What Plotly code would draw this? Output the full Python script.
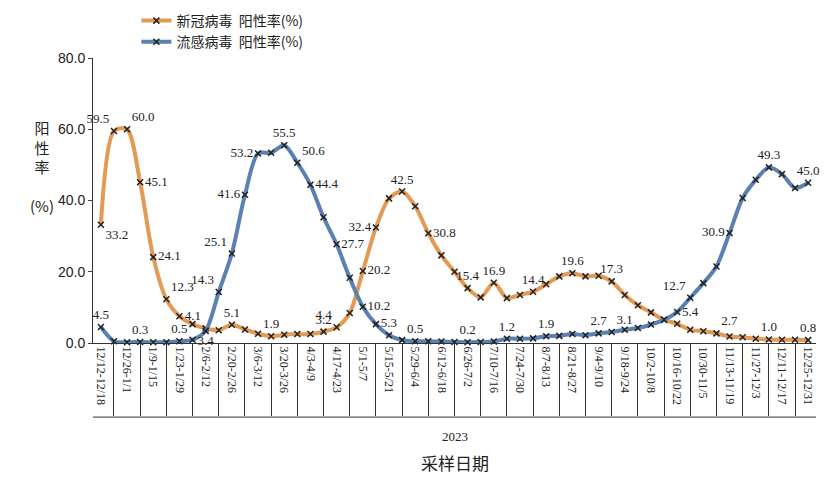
import plotly.graph_objects as go

weeks = list(range(55))
tick_idx = list(range(0, 55, 2))
tick_labels = ["12/12-12/18","12/26-1/1","1/9-1/15","1/23-1/29","2/6-2/12","2/20-2/26","3/6-3/12",
               "3/20-3/26","4/3-4/9","4/17-4/23","5/1-5/7","5/15-5/21","5/29-6/4","6/12-6/18",
               "6/26-7/2","7/10-7/16","7/24-7/30","8/7-8/13","8/21-8/27","9/4-9/10","9/18-9/24",
               "10/2-10/8","10/16-10/22","10/30-11/5","11/13-11/19","11/27-12/3","12/11-12/17","12/25-12/31"]

covid = [33.2,59.5,60.0,45.1,24.1,12.3,7.5,5.3,4.1,3.6,
         5.1,3.8,2.6,1.9,2.3,2.5,2.5,3.2,4.4,8.4,
         20.2,32.4,40.6,42.5,38.4,30.8,24.6,20.0,15.4,12.8,
         16.9,12.6,13.5,14.4,16.5,18.7,19.6,18.7,18.9,17.3,
         13.5,10.6,8.6,6.5,5.4,3.7,3.3,2.7,1.8,1.6,
         1.2,1.0,0.9,0.9,0.8]
flu = [4.5,0.5,0.2,0.3,0.2,0.2,0.5,0.9,3.4,14.3,
       25.1,41.6,53.2,53.4,55.5,50.6,44.4,35.3,27.7,18.3,
       10.2,5.3,2.2,0.8,0.5,0.5,0.4,0.3,0.2,0.3,
       0.4,1.2,1.2,1.3,1.9,2.0,2.5,2.2,2.7,3.1,
       3.7,4.2,5.2,6.5,8.7,12.7,16.8,21.5,30.9,40.7,
       45.8,49.3,47.4,43.5,45.0]

covid_lbl = {0:"bottom right",1:"top left",2:"top right",3:"middle right",4:"middle right",5:"top right",
             8:"top left",10:"top center",13:"top center",17:"top center",18:"top left",20:"middle right",
             21:"middle left",23:"top center",25:"middle right",28:"top center",30:"top center",
             33:"top center",36:"top center",39:"top center",44:"top right",47:"top right",
             51:"top center",54:"top center"}
flu_lbl = {0:"top center",3:"top center",6:"top center",8:"bottom center",9:"top left",10:"top left",
           11:"middle left",12:"middle left",14:"top center",15:"top right",16:"middle right",
           18:"middle right",20:"middle right",21:"middle right",24:"top center",28:"top center",
           31:"top center",34:"top center",38:"top center",39:"top right",45:"top left",
           48:"middle left",51:"top center",54:"top center"}

def texts(vals, lbl):
    t = [f"{v:.1f}" if i in lbl else "" for i, v in enumerate(vals)]
    p = [lbl.get(i, "top center") for i in range(len(vals))]
    return t, p

fig = go.Figure()
for name, vals, col, lbl in [("新冠病毒  阳性率(%)", covid, "#E39A55", covid_lbl),
                             ("流感病毒  阳性率(%)", flu, "#5B80B2", flu_lbl)]:
    t, p = texts(vals, lbl)
    fig.add_trace(go.Scatter(x=weeks, y=vals, name=name, mode="lines+markers+text",
                             line=dict(color=col, width=4, shape="spline", smoothing=0.8),
                             marker=dict(symbol="x-thin", size=6, color="#222",
                                         line=dict(width=1.5, color="#222")),
                             text=t, textposition=p, cliponaxis=False,
                             textfont=dict(family="Liberation Serif", size=13, color="#222")))

fig.update_layout(
    width=828, height=500, plot_bgcolor="white", paper_bgcolor="white",
    margin=dict(l=85, r=20, t=50, b=165, autoexpand=False),
    font=dict(family="Liberation Serif", size=13, color="#222"),
    legend=dict(x=0.06, y=1.0, xanchor="left", yanchor="bottom", bgcolor="rgba(0,0,0,0)",
                font=dict(family="Noto Sans CJK SC", size=14)),
    xaxis=dict(range=[-0.6, 54.6], tickmode="array", tickvals=tick_idx, ticktext=tick_labels,
               tickangle=90, showgrid=False, showline=True, linecolor="#333", ticks="",
               tickfont=dict(family="Liberation Serif", size=12),
               minor=dict(tick0=1, dtick=2, ticks="outside", ticklen=72, tickcolor="#333")),
    yaxis=dict(range=[0, 80], dtick=20, tickformat=".1f", showgrid=False, showline=True,
               linecolor="#333", ticks="outside", ticklen=4,
               tickfont=dict(family="Liberation Sans", size=14)),
)
fig.add_shape(type="line", xref="paper", yref="paper", x0=0, x1=1, y0=-0.26, y1=-0.26,
              line=dict(color="#333", width=1))
fig.add_annotation(text="阳<br>性<br>率<br><br>(%)", xref="paper", yref="paper", x=-0.09, y=0.62,
                   showarrow=False, font=dict(family="Noto Sans CJK SC", size=15))
fig.add_annotation(text="2023", xref="paper", yref="paper", x=0.5, y=-0.36, showarrow=False,
                   font=dict(family="Liberation Serif", size=13))
fig.add_annotation(text="采样日期", xref="paper", yref="paper", x=0.5, y=-0.47, showarrow=False,
                   font=dict(family="Noto Sans CJK SC", size=17))
fig.write_html("out.html")
